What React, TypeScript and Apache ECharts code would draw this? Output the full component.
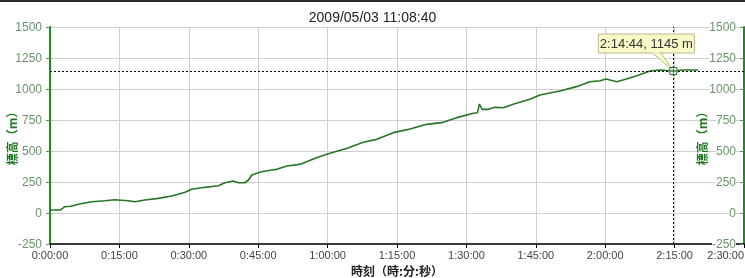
import React, { useEffect, useRef } from "react";
import * as echarts from "echarts";

const titleText = "2009/05/03 11:08:40";
const yAxisName = "標高（m）";
const xAxisName = "時刻（時:分:秒）";

// elapsed time in minutes
const times = [
  0, 2.2, 3.2, 4.5, 6.1, 9, 11.9, 14, 16.9, 18.4, 20.5, 23.4, 26.3, 29.2, 30.6,
  33.5, 36.4, 37.8, 39.6, 40.7, 42.1, 42.9, 43.6, 45.7, 47.9, 49, 51.2, 54, 57.6,
  60.5, 64.1, 67.7, 70.6, 74.2, 77.8, 81.4, 85, 87.9, 91.5, 92.4, 92.8, 93.4,
  94.7, 96.2, 98, 100.1, 103.7, 105.9, 110.2, 113.8, 116.7, 118.9, 120.2, 122.5,
  124.6, 126.8, 129.7, 131.8, 134.73, 136.9, 140.1,
];
// elevation in metres
const elevations = [
  24, 24, 51, 55, 70, 91, 99, 107, 99, 91, 105, 118, 137, 167, 191, 207, 220,
  244, 258, 244, 244, 266, 306, 333, 347, 352, 379, 392, 446, 481, 521, 570, 594,
  648, 677, 715, 731, 769, 804, 809, 879, 836, 836, 852, 849, 877, 917, 952, 984,
  1019, 1059, 1067, 1081, 1059, 1081, 1107, 1145, 1153, 1145, 1153, 1153,
];

const cursorTime = 134.73; // 2:14:44
const cursorElevation = 1145;
const cursorLabel = "2:14:44, 1145 m";

const fmtTime = (m: number) => {
  const total = Math.round(m * 60);
  const h = Math.floor(total / 3600);
  const mm = Math.floor((total % 3600) / 60);
  const ss = total % 60;
  return `${h}:${String(mm).padStart(2, "0")}:${String(ss).padStart(2, "0")}`;
};

const FONT = "'Liberation Sans', 'Noto Sans CJK JP', sans-serif";
const JP = "'Noto Sans CJK JP', sans-serif";
const NAME_COLOR = "#1f7a1f";

export default function App() {
  const ref = useRef<HTMLDivElement>(null);
  useEffect(() => {
    document.body.style.margin = "0";
    const chart = echarts.init(ref.current!, null, { renderer: "svg" });
    const data = times.map((t, i) => [t, elevations[i]]);
    const yCommon = {
      type: "value",
      min: -250,
      max: 1500,
      interval: 250,
      axisLine: { show: true, lineStyle: { color: "#1f8a1f", width: 2 } },
      axisTick: { show: true, length: 4, lineStyle: { color: "#5f8f5f" } },
      axisLabel: { color: "#6a946a", fontSize: 12, fontFamily: FONT, formatter: (v: number) => String(v) },
    };
    chart.setOption({
      animation: false,
      title: {
        text: titleText,
        left: "center",
        top: 5,
        textStyle: { fontSize: 14, fontWeight: "normal", color: "#222", fontFamily: FONT },
      },
      grid: { left: 50, right: 1, top: 27, bottom: 34, containLabel: false, outerBoundsMode: "none" },
      xAxis: {
        type: "value",
        min: 0,
        max: 150,
        interval: 15,
        name: xAxisName,
        nameLocation: "middle",
        nameGap: 15,
        nameTextStyle: { color: "#222", fontWeight: "bold", fontSize: 12, fontFamily: JP, verticalAlign: "top", lineHeight: 12 },
        axisLine: { show: true, onZero: false, lineStyle: { color: "#000", width: 1.5 } },
        axisTick: { show: true, length: 4, lineStyle: { color: "#000" } },
        axisLabel: {
          color: "#444",
          fontSize: 11,
          fontFamily: FONT,
          formatter: (v: number) => fmtTime(v),
          margin: 5,
          hideOverlap: false,
          alignMaxLabel: "right",
        },
        splitLine: { show: true, lineStyle: { color: "#cfcfcf", width: 1 } },
      },
      yAxis: [
        {
          ...yCommon,
          position: "left",
          splitLine: { show: true, lineStyle: { color: "#cfcfcf", width: 1 } },
        },
        {
          ...yCommon,
          position: "right",
          axisTick: { ...yCommon.axisTick, inside: true },
          axisLabel: { ...yCommon.axisLabel, inside: true, margin: 8, backgroundColor: "#fff" },
          splitLine: { show: false },
        },
      ],
      series: [
        {
          type: "line",
          data,
          showSymbol: false,
          lineStyle: { color: "#267526", width: 1.6 },
          markLine: {
            silent: true,
            symbol: "none",
            label: { show: false },
            lineStyle: { color: "#000", type: [2, 2], width: 1 },
            data: [{ xAxis: cursorTime }, { yAxis: cursorElevation }],
          },
        },
      ],
    });

    const [px, py] = chart.convertToPixel({ xAxisIndex: 0, yAxisIndex: 0 }, [cursorTime, cursorElevation]) as number[];
    const [leftX] = chart.convertToPixel({ xAxisIndex: 0, yAxisIndex: 0 }, [0, 625]) as number[];
    const [rightX, midY] = chart.convertToPixel({ xAxisIndex: 0, yAxisIndex: 1 }, [150, 625]) as number[];
    const boxW = 96;
    const boxH = 19;
    const boxX = px - 75;
    const boxY = py - 37;
    const nameText = (x: number) => ({
      type: "text",
      x,
      y: midY,
      rotation: Math.PI / 2,
      style: { text: yAxisName, fill: NAME_COLOR, font: `bold 12px ${JP}`, align: "center", verticalAlign: "middle" },
      z: 100,
    });
    chart.setOption({
      graphic: [
        { type: "rect", shape: { x: 0, y: 0, width: 745, height: 2 }, style: { fill: "#2b2b2b" }, z: 100 },
        nameText(leftX - 39),
        nameText(rightX - 43),
        {
          type: "polygon",
          shape: { points: [[px - 22, boxY + boxH - 1], [px - 13, boxY + boxH - 1], [px, py]] },
          style: { fill: "#fafac8", stroke: "#b8b890", lineWidth: 1 },
          z: 100,
        },
        {
          type: "rect",
          shape: { x: boxX, y: boxY, width: boxW, height: boxH },
          style: { fill: "#fafac8", stroke: "#b8b890", lineWidth: 1 },
          z: 101,
        },
        {
          type: "rect",
          shape: { x: px - 21, y: boxY + boxH - 1.5, width: 7, height: 2 },
          style: { fill: "#fafac8" },
          z: 102,
        },
        {
          type: "text",
          x: boxX + boxW / 2,
          y: boxY + boxH / 2,
          style: { text: cursorLabel, fill: "#333", font: `13px ${FONT}`, align: "center", verticalAlign: "middle" },
          z: 103,
        },
        {
          type: "rect",
          shape: { x: px - 3.5, y: py - 3.5, width: 7, height: 7 },
          style: { fill: "rgba(255,255,255,0.7)", stroke: "#1f6a1f", lineWidth: 1 },
          z: 104,
        },
        { type: "line", shape: { x1: px - 2.5, y1: py, x2: px + 2.5, y2: py }, style: { stroke: "#1f6a1f", lineWidth: 1 }, z: 105 },
        { type: "line", shape: { x1: px, y1: py - 2.5, x2: px, y2: py + 2.5 }, style: { stroke: "#1f6a1f", lineWidth: 1 }, z: 105 },
      ],
    });
    return () => chart.dispose();
  }, []);
  return <div ref={ref} style={{ position: "fixed", left: 0, top: 0, width: 745, height: 278 }} />;
}
